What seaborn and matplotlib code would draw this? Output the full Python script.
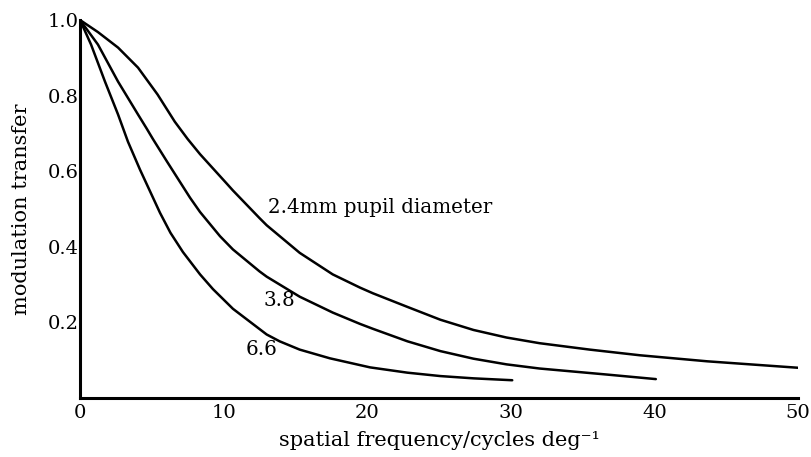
import matplotlib
matplotlib.use("Agg")
import matplotlib.pyplot as plt
import seaborn as sns
import pandas as pd

# ---- data ----
freq_24 = [0, 1.25, 2.65, 4.04, 5.4, 6.6, 7.5, 8.36, 10.2, 10.65, 12.5, 13.0, 15.3, 17.6,
           19.5, 20.4, 22.8, 25.1, 27.4, 29.7, 32, 35.5, 39, 43.7, 50]
mt_24 = [1.0, 0.968, 0.927, 0.874, 0.803, 0.731, 0.685, 0.645, 0.568, 0.549, 0.476, 0.457, 0.384, 0.327,
         0.292, 0.277, 0.241, 0.207, 0.180, 0.160, 0.145, 0.128, 0.113, 0.097, 0.080]

freq_38 = [0, 1.25, 2.65, 4.04, 4.64, 5.08, 6.05, 7.66, 8.36, 9.75, 10.65, 12.5, 13.0, 15.3,
           17.6, 19.5, 20.4, 22.8, 25.1, 27.4, 29.7, 32, 36.7, 40.1]
mt_38 = [1.0, 0.935, 0.837, 0.75, 0.713, 0.685, 0.626, 0.530, 0.492, 0.428, 0.393, 0.335, 0.321, 0.268,
         0.226, 0.196, 0.183, 0.150, 0.124, 0.104, 0.089, 0.078, 0.062, 0.050]

freq_66 = [0, 0.77, 1.74, 2.65, 3.34, 4.18, 5.57, 6.3, 7.17, 8.36, 9.26, 10.65, 13.0, 13.9, 15.3,
           17.4, 20.2, 22.8, 25.1, 27.4, 30.1]
mt_66 = [1.0, 0.935, 0.837, 0.75, 0.678, 0.604, 0.49, 0.437, 0.386, 0.327, 0.288, 0.236, 0.168, 0.150, 0.128,
         0.105, 0.081, 0.067, 0.058, 0.052, 0.047]

curve_labels = ["2.4mm pupil diameter", "3.8", "6.6"]
label_pos = [(13.1, 0.503), (12.75, 0.257), (11.5, 0.127)]

x_ticks = [0, 10, 20, 30, 40, 50]
y_ticks = [0.2, 0.4, 0.6, 0.8, 1.0]
y_ticklabels = ["0.2", "0.4", "0.6", "0.8", "1.0"]

df = pd.concat([
    pd.DataFrame({"freq": freq_24, "mt": mt_24, "pupil": "2.4"}),
    pd.DataFrame({"freq": freq_38, "mt": mt_38, "pupil": "3.8"}),
    pd.DataFrame({"freq": freq_66, "mt": mt_66, "pupil": "6.6"}),
], ignore_index=True)

sns.set_theme(style="white")
plt.rcParams["font.family"] = ["DejaVu Serif", "DejaVu Sans"]

fig = plt.figure(figsize=(8.11, 4.57), dpi=100)
ax = fig.add_axes([80 / 811, 59 / 457, 718 / 811, 378 / 457])

sns.lineplot(data=df, x="freq", y="mt", hue="pupil", palette=["black"] * 3,
             estimator=None, sort=False, legend=False, linewidth=1.8, ax=ax)
for ln in ax.lines:
    ln.set_solid_joinstyle("round")
    ln.set_solid_capstyle("round")

ax.set_xlim(0, 50)
ax.set_ylim(0, 1.0)
ax.set_xticks(x_ticks)
ax.set_xticklabels([str(t) for t in x_ticks])
ax.set_yticks(y_ticks)
ax.set_yticklabels(y_ticklabels)
ax.tick_params(direction="in", length=7, width=1.3, labelsize=14, colors="black", pad=1)
ax.tick_params(axis="x", pad=4)

for s in ["top", "right"]:
    ax.spines[s].set_visible(False)
for s in ["left", "bottom"]:
    ax.spines[s].set_linewidth(2.2)
    ax.spines[s].set_color("black")

ax.set_xlabel("spatial frequency/cycles deg\u207b\u00b9", fontsize=15, labelpad=7, color="black")
ax.set_ylabel("modulation transfer", fontsize=15, labelpad=12, color="black")

for txt, (lx, ly) in zip(curve_labels, label_pos):
    ax.text(lx, ly, txt, fontsize=14.3, ha="left", va="center", color="black")

fig.savefig("out.png", dpi=100)
